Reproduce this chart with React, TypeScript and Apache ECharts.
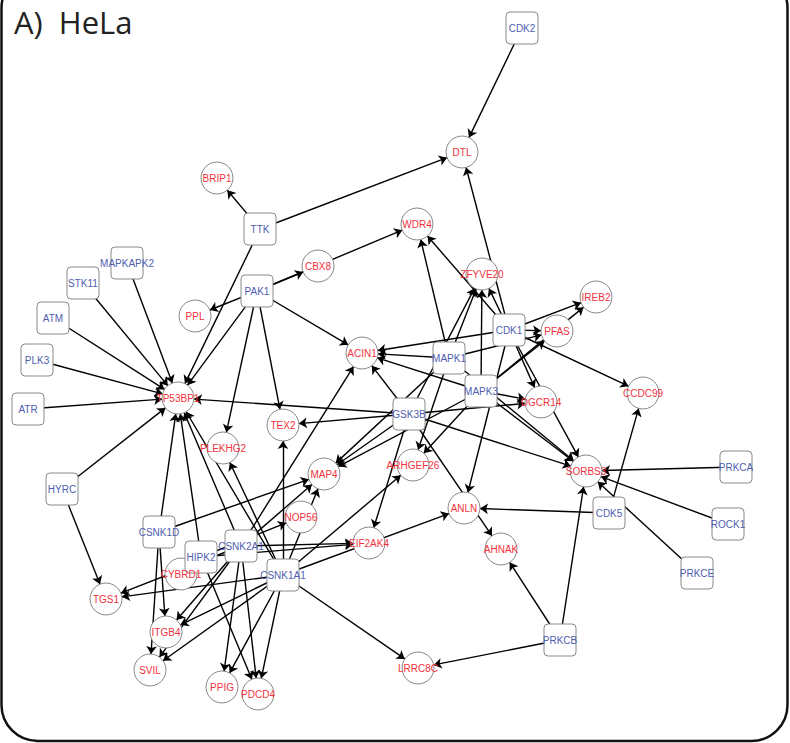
import React, { useEffect, useRef } from "react";
import * as echarts from "echarts";

const kinases = ["CDK2","TTK","MAPKAPK2","STK11","ATM","PLK3","ATR","PAK1","CDK1","MAPK1","MAPK3","GSK3B","PRKCA","HYRC","CSNK1D","HIPK2","CSNK2A1","CSNK1A1","CDK5","ROCK1","PRKCE","PRKCB"];
const kinaseX = [522,260,127,83,53,37,28,257,509,449,481,409,736,62,159,201,241,283,609,728,697,560];
const kinaseY = [28,229,263,283,318,360,409,291,330,358,391,414,467,489,532,557,546,575,513,524,573,640];

const substrates = ["DTL","BRIP1","WDR4","CBX8","PPL","ZFYVE20","IREB2","PFAS","ACIN1","TP53BP1","CCDC99","DGCR14","TEX2","PLEKHG2","MAP4","ARHGEF26","SORBS3","ANLN","NOP56","EIF2AK4","AHNAK","CYBRD1","TGS1","ITGB4","SVIL","PPIG","PDCD4","LRRC8C"];
const substrateX = [462,217,417,318,195,482,596,557,362,178,643,541,283,223,324,413,586,464,301,369,501,181,106,166,150,222,258,418];
const substrateY = [152,178,224,266,316,274,297,331,353,398,393,402,425,448,474,465,471,508,517,543,549,574,599,632,670,687,694,668];

const edges: [string, string][] = [
  ["CDK2","DTL"],
  ["TTK","BRIP1"],["TTK","DTL"],["TTK","TP53BP1"],
  ["MAPKAPK2","TP53BP1"],["STK11","TP53BP1"],["ATM","TP53BP1"],["PLK3","TP53BP1"],["ATR","TP53BP1"],
  ["HYRC","TP53BP1"],["HYRC","TGS1"],
  ["PAK1","CBX8"],["PAK1","WDR4"],["PAK1","PPL"],["PAK1","TP53BP1"],["PAK1","PLEKHG2"],["PAK1","TEX2"],["PAK1","ACIN1"],
  ["CDK1","DTL"],["CDK1","WDR4"],["CDK1","ZFYVE20"],["CDK1","ACIN1"],["CDK1","PFAS"],["CDK1","IREB2"],["CDK1","CCDC99"],["CDK1","DGCR14"],["CDK1","SORBS3"],["CDK1","ANLN"],
  ["MAPK1","WDR4"],["MAPK1","ZFYVE20"],["MAPK1","ACIN1"],["MAPK1","PFAS"],["MAPK1","MAP4"],["MAPK1","ARHGEF26"],["MAPK1","SORBS3"],
  ["MAPK3","ZFYVE20"],["MAPK3","ACIN1"],["MAPK3","PFAS"],["MAPK3","IREB2"],["MAPK3","DGCR14"],["MAPK3","SORBS3"],["MAPK3","MAP4"],["MAPK3","ARHGEF26"],
  ["GSK3B","ZFYVE20"],["GSK3B","ACIN1"],["GSK3B","TP53BP1"],["GSK3B","TEX2"],["GSK3B","MAP4"],["GSK3B","DGCR14"],["GSK3B","SORBS3"],["GSK3B","EIF2AK4"],["GSK3B","AHNAK"],
  ["CDK5","ANLN"],["CDK5","CCDC99"],
  ["PRKCA","SORBS3"],["ROCK1","SORBS3"],["PRKCE","SORBS3"],["PRKCB","SORBS3"],["PRKCB","AHNAK"],["PRKCB","LRRC8C"],
  ["CSNK1D","TP53BP1"],["CSNK1D","MAP4"],["CSNK1D","ITGB4"],["CSNK1D","SVIL"],
  ["HIPK2","TP53BP1"],["HIPK2","PDCD4"],["HIPK2","NOP56"],["HIPK2","EIF2AK4"],
  ["CSNK2A1","TP53BP1"],["CSNK2A1","ACIN1"],["CSNK2A1","MAP4"],["CSNK2A1","EIF2AK4"],["CSNK2A1","TGS1"],["CSNK2A1","ITGB4"],["CSNK2A1","SVIL"],["CSNK2A1","PPIG"],["CSNK2A1","PDCD4"],
  ["CSNK1A1","TP53BP1"],["CSNK1A1","PLEKHG2"],["CSNK1A1","TEX2"],["CSNK1A1","MAP4"],["CSNK1A1","ARHGEF26"],["CSNK1A1","ANLN"],["CSNK1A1","TGS1"],["CSNK1A1","ITGB4"],["CSNK1A1","SVIL"],["CSNK1A1","PPIG"],["CSNK1A1","PDCD4"],["CSNK1A1","LRRC8C"],
];

const titleText = "A)  HeLa";

export default function App() {
  const ref = useRef<HTMLDivElement>(null);
  useEffect(() => {
    if (!ref.current) return;
    const chart = echarts.init(ref.current, undefined, { renderer: "svg" });
    const labelBase = { show: true, position: "inside" as const, fontSize: 10, fontFamily: "Liberation Sans, Arial, sans-serif" };
    const nodes = [
      ...substrates.map((n, i) => ({
        name: n,
        value: [substrateX[i], substrateY[i]],
        symbol: "circle",
        symbolSize: 32,
        itemStyle: { color: "#ffffff", borderColor: "#8a8a8a", borderWidth: 1 },
        label: { ...labelBase, color: "#f2323c" },
      })),
      ...kinases.map((n, i) => ({
        name: n,
        value: [kinaseX[i], kinaseY[i]],
        symbol: "path://M4,0 H28 A4,4 0 0 1 32,4 V28 A4,4 0 0 1 28,32 H4 A4,4 0 0 1 0,28 V4 A4,4 0 0 1 4,0 Z",
        symbolSize: 32,
        itemStyle: { color: "#ffffff", borderColor: "#8a8a8a", borderWidth: 1 },
        label: { ...labelBase, color: "#4f5db0" },
      })),
    ];
    const links = edges.map(([s, t]) => ({ source: s, target: t }));
    chart.setOption({
      animation: false,
      backgroundColor: "#ffffff",
      grid: { left: 0, right: 0, top: 0, bottom: 0 },
      xAxis: { type: "value", min: 0, max: 790, show: false },
      yAxis: { type: "value", min: 0, max: 743, inverse: true, show: false },
      graphic: [
        {
          type: "rect",
          shape: { x: 1.5, y: -28, width: 786, height: 769, r: 36 },
          style: { fill: "none", stroke: "#111", lineWidth: 2.5 },
          z: 0,
        },
        {
          type: "text",
          left: 14,
          top: 6,
          style: { text: titleText, fontSize: 31, fontFamily: "Open Sans, Lato, sans-serif", fill: "#222" },
        },
      ],
      series: [
        {
          type: "graph",
          coordinateSystem: "cartesian2d",
          layout: "none",
          data: nodes,
          links,
          edgeSymbol: ["none", "arrow"],
          edgeSymbolSize: [0, 8],
          lineStyle: { color: "#000", width: 1.4, opacity: 1, curveness: 0 },
          emphasis: { disabled: true },
          z: 2,
        },
      ],
    });
    return () => chart.dispose();
  }, []);
  return <div ref={ref} style={{ position: "absolute", left: 0, top: 0, width: 790, height: 743 }} />;
}
